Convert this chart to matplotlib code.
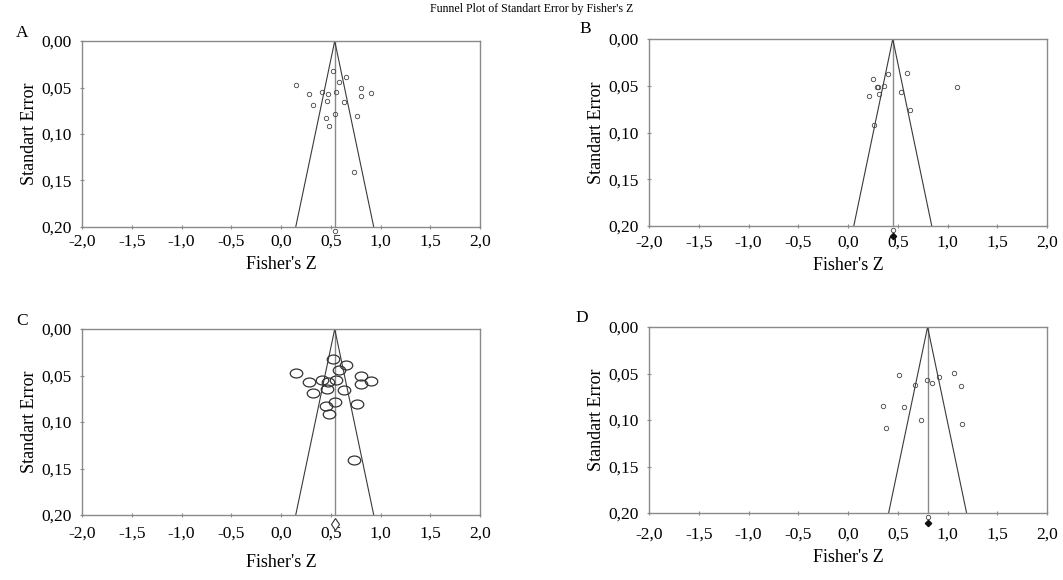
import matplotlib
matplotlib.use("Agg")
import matplotlib.pyplot as plt
import numpy as np
from matplotlib.path import Path
from matplotlib.transforms import Affine2D

plt.rcParams["font.family"] = ["Liberation Serif", "DejaVu Serif"]

# data (Fisher's Z, standard error)
a_z = [0.52, 0.65, 0.58, 0.15, 0.80, 0.28, 0.415, 0.47, 0.555, 0.90,
       0.80, 0.46, 0.635, 0.325, 0.54, 0.765, 0.455, 0.48, 0.735]
a_se = [0.032, 0.039, 0.044, 0.047, 0.051, 0.057, 0.055, 0.057, 0.055, 0.056,
        0.0595, 0.0645, 0.066, 0.069, 0.078, 0.081, 0.083, 0.091, 0.141]
a_center = 0.54

b_z = [0.40, 0.59, 0.255, 0.29, 0.30, 0.365, 1.10, 0.31, 0.53, 0.215, 0.625, 0.26]
b_se = [0.037, 0.036, 0.043, 0.051, 0.051, 0.050, 0.051, 0.059, 0.057, 0.061, 0.076, 0.092]
b_center = 0.45

d_z = [0.51, 1.07, 0.915, 0.795, 0.84, 0.67, 1.14, 0.355, 0.56, 0.73, 1.15, 0.38]
d_se = [0.052, 0.049, 0.054, 0.057, 0.060, 0.062, 0.063, 0.085, 0.086, 0.100, 0.104, 0.109]
d_center = 0.80

x_ticks = [-2.0, -1.5, -1.0, -0.5, 0.0, 0.5, 1.0, 1.5, 2.0]
x_ticklabels = ["-2,0", "-1,5", "-1,0", "-0,5", "0,0", "0,5", "1,0", "1,5", "2,0"]
y_ticks = [0.00, 0.05, 0.10, 0.15, 0.20]
y_ticklabels = ["0,00", "0,05", "0,10", "0,15", "0,20"]

SPINE = "#8a8a8a"
W, H = 1063, 580

ellipse = Path.unit_circle().transformed(Affine2D().scale(1.4, 1.0))


def px_axes(fig, left, top, right, bottom):
    return fig.add_axes([left / W, 1 - bottom / H, (right - left) / W, (bottom - top) / H])


def funnel_panel(ax, z, se, center, big=False, filled_summary=False,
                 xpad=4, xlabelpad=3):
    ax.set_xlim(-2.0, 2.0)
    ax.set_ylim(0.20, 0.0)

    se_max = 0.20
    ax.plot([center, center], [0, se_max], color=SPINE, lw=1.0, zorder=2)
    ax.plot([center - 1.96 * se_max, center, center + 1.96 * se_max],
            [se_max, 0, se_max], color="#3a3a3a", lw=0.8, zorder=2)

    if big:
        ax.plot(z, se, linestyle="none", marker=ellipse, markersize=9,
                markerfacecolor="none", markeredgecolor="#333333",
                markeredgewidth=0.9, zorder=3)
        ax.plot([center], [0.2095], linestyle="none", marker="d", markersize=6,
                markerfacecolor="white", markeredgecolor="#333333",
                markeredgewidth=0.8, clip_on=False, zorder=5)
    else:
        ax.plot(z, se, linestyle="none", marker="o", markersize=3.2,
                markerfacecolor="none", markeredgecolor="#444444",
                markeredgewidth=0.6, zorder=3)
        ax.plot([center], [0.204], linestyle="none", marker="o", markersize=3.2,
                markerfacecolor="none", markeredgecolor="#444444",
                markeredgewidth=0.6, clip_on=False, zorder=3)
        if filled_summary:
            ax.plot([center], [0.2105], linestyle="none", marker="D", markersize=3.2,
                    color="#111111", clip_on=False, zorder=3)

    ax.set_xticks(x_ticks)
    ax.set_xticklabels(x_ticklabels)
    ax.set_yticks(y_ticks)
    ax.set_yticklabels(y_ticklabels)
    ax.tick_params(direction="inout", length=3, width=0.8, color=SPINE,
                   labelsize=12.5)
    ax.tick_params(axis="x", pad=xpad)
    ax.tick_params(axis="y", pad=6)
    for s in ax.spines.values():
        s.set_color(SPINE)
        s.set_linewidth(1.0)
    ax.set_xlabel("Fisher's Z", fontsize=13, labelpad=xlabelpad)
    ax.set_ylabel("Standart Error", fontsize=13, labelpad=2)


fig = plt.figure(figsize=(W / 100, H / 100), dpi=100)

ax_a = px_axes(fig, 82, 41, 480, 227)
ax_b = px_axes(fig, 649, 39, 1047, 226)
ax_c = px_axes(fig, 82, 329, 480, 515)
ax_d = px_axes(fig, 649, 327, 1047, 513)

funnel_panel(ax_a, a_z, a_se, a_center, xpad=3, xlabelpad=5)
funnel_panel(ax_b, b_z, b_se, b_center, filled_summary=True, xpad=5, xlabelpad=4)
funnel_panel(ax_c, a_z, a_se, a_center, big=True, xpad=6, xlabelpad=9)
funnel_panel(ax_d, d_z, d_se, d_center, filled_summary=True, xpad=8, xlabelpad=5)

fig.text(532 / W, 1 - 9 / H, "Funnel Plot of Standart Error by Fisher's Z",
         ha="center", va="center", fontsize=8.6)
for label, (x, y) in zip("ABCD", [(22, 33), (585, 29), (22, 321), (582, 318)]):
    fig.text(x / W, 1 - y / H, label, ha="center", va="center", fontsize=12.5)

fig.savefig("out.png", dpi=100)
